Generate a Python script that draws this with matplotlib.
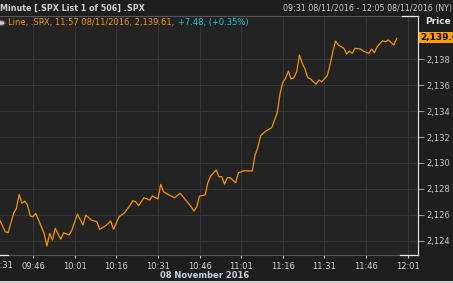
import numpy as np
import matplotlib.pyplot as plt
from matplotlib.ticker import FuncFormatter

# minutes after 09:31 and SPX price
minutes = [3, 5, 6, 8, 9, 10, 11, 12, 13, 14, 15, 16, 18, 19, 20, 21, 22, 23, 25, 26,
           28, 29, 31, 33, 34, 36, 38, 39, 41, 43, 44, 46, 48, 50, 51, 52, 53, 55, 57, 58,
           60, 61, 62, 64, 66, 68, 70, 72, 73, 74, 75, 77, 78, 79, 81, 82, 83, 84, 85, 86,
           88, 89, 91, 94, 95, 96, 97, 99, 101, 102, 103, 104, 105, 106, 107, 108, 109, 110,
           111, 112, 113, 114, 115, 117, 118, 119, 121, 122, 123, 124, 125, 127, 128, 129,
           130, 131, 133, 134, 135, 136, 137, 138, 139, 141, 142, 143, 145, 146]
prices = [2125.60, 2124.69, 2124.62, 2126.11, 2126.50, 2127.58, 2126.89, 2127.06, 2126.75, 2125.91,
          2125.85, 2126.11, 2125.08, 2124.57, 2123.59, 2124.57, 2124.05, 2124.96, 2124.11, 2124.62,
          2124.44, 2124.83, 2126.06, 2125.21, 2125.98, 2125.60, 2125.47, 2124.88, 2125.13, 2125.52,
          2124.88, 2125.85, 2126.16, 2126.75, 2127.09, 2127.01, 2126.70, 2127.32, 2127.14, 2127.45,
          2127.22, 2128.35, 2127.78, 2127.53, 2127.32, 2127.66, 2127.14, 2126.62, 2126.29, 2126.62,
          2127.45, 2127.53, 2128.48, 2128.99, 2129.46, 2128.94, 2128.94, 2128.37, 2128.86, 2128.86,
          2128.48, 2129.25, 2129.40, 2129.38, 2130.61, 2131.21, 2132.10, 2132.49, 2132.72, 2133.31,
          2133.88, 2135.37, 2136.22, 2136.53, 2137.09, 2136.48, 2136.58, 2137.04, 2138.33, 2137.69,
          2137.25, 2136.58, 2136.48, 2136.07, 2136.40, 2136.27, 2136.73, 2137.56, 2138.58, 2139.41,
          2139.10, 2138.85, 2138.41, 2138.64, 2138.46, 2138.85, 2138.79, 2138.64, 2138.54, 2138.46,
          2138.79, 2138.51, 2138.97, 2139.43, 2139.35, 2139.49, 2139.10, 2139.61]

tick_minutes = [0, 15, 30, 45, 60, 75, 90, 105, 120, 135, 150]
tick_labels = ['09:31', '09:46', '10:01', '10:16', '10:31', '10:46',
               '11:01', '11:16', '11:31', '11:46', '12:01']
price_ticks = [2124, 2126, 2128, 2130, 2132, 2134, 2136, 2138]

W, H = 453, 283
fig = plt.figure(figsize=(W / 100, H / 100), dpi=100)
fig.patch.set_facecolor('#1e1e1e')

# axes box in pixels: x -8.6..418, y 16..255 (from top)
ax = fig.add_axes([-8.6 / W, 28 / H, 426.6 / W, 239 / H])
ax.set_facecolor('#232323')
ax.plot(minutes, prices, color='#f29400', lw=0.9)
ax.set_xlim(0, 153.7)
ax.set_ylim(2122.90, 2141.34)

ax.set_xticks(tick_minutes)
ax.set_xticklabels([''] + tick_labels[1:])
ax.set_yticks(price_ticks)
ax.yaxis.set_major_formatter(FuncFormatter(lambda v, p: f'{v:,.0f}'))
ax.yaxis.tick_right()
ax.grid(True, color='#353535', lw=0.8)
ax.tick_params(axis='x', colors='#cfcfcf', labelcolor='#c8d2dc', labelsize=6,
               length=2, width=0.8, pad=3)
ax.tick_params(axis='y', colors='#9a9a9a', labelcolor='#c8c8c8', labelsize=6,
               length=4, width=0.8, pad=2)
for s in ['top', 'bottom', 'left']:
    ax.spines[s].set_color('#555555')
ax.spines['right'].set_color('#e8e8e8')
ax.spines['left'].set_visible(False)

# white ends of the top / bottom frame
fig.add_artist(plt.Line2D([402 / W, 418 / W], [267 / H, 267 / H], color='#e8e8e8', lw=0.9))
fig.add_artist(plt.Line2D([400 / W, 418 / W], [28 / H, 28 / H], color='#e8e8e8', lw=0.9))
fig.add_artist(plt.Line2D([0, 8 / W], [28 / H, 28 / H], color='#e8e8e8', lw=0.9))

# first time label pushed inside the picture
fig.text(13.4 / W, (H - 265) / H, '09:31', color='#c8d2dc', fontsize=6, ha='right', va='center')
fig.text(205 / W, (H - 275.5) / H, '08 November 2016', color='#c8d2dc', fontsize=6,
         fontweight='bold', ha='center', va='center')

# header
fig.text(0, (H - 8) / H, 'Minute [.SPX List 1 of 506] .SPX', color='#d0d0d0', fontsize=5.8,
         fontweight='bold', ha='left', va='center')
fig.text(283 / W, (H - 8) / H, '09:31 08/11/2016 - 12:05 08/11/2016 (NY)', color='#c8c8c8',
         fontsize=5.8, ha='left', va='center')

# legend row
fig.text(8 / W, (H - 23) / H, 'Line, .SPX, 11:57 08/11/2016, 2,139.61, ', color='#f0960a',
         fontsize=6, ha='left', va='center')
fig.text(178 / W, (H - 23) / H, '+7.48, (+0.35%)', color='#1ec8c8', fontsize=6,
         ha='left', va='center')
fig.add_artist(plt.Circle((1 / W, (H - 23) / H), 4 / W, transform=fig.transFigure,
                          facecolor='#cfcfcf', edgecolor='#555555'))

# price header + last value box
fig.text(425 / W, (H - 22) / H, 'Price', color='#e0e0e0', fontsize=6.5, fontweight='bold',
         ha='left', va='center')
fig.text(420 / W, (H - 37.5) / H, '2,139.61', color='black', fontsize=6.5, fontweight='bold',
         ha='left', va='center',
         bbox=dict(boxstyle='square,pad=0.15', facecolor='#ffa000', edgecolor='none'))

# light strip at the bottom
fig.add_artist(plt.Rectangle((0, 0), 1, 2.5 / H, transform=fig.transFigure,
                             facecolor='#d0d0d0', edgecolor='none'))

fig.savefig('out.png', dpi=100, facecolor=fig.get_facecolor())
